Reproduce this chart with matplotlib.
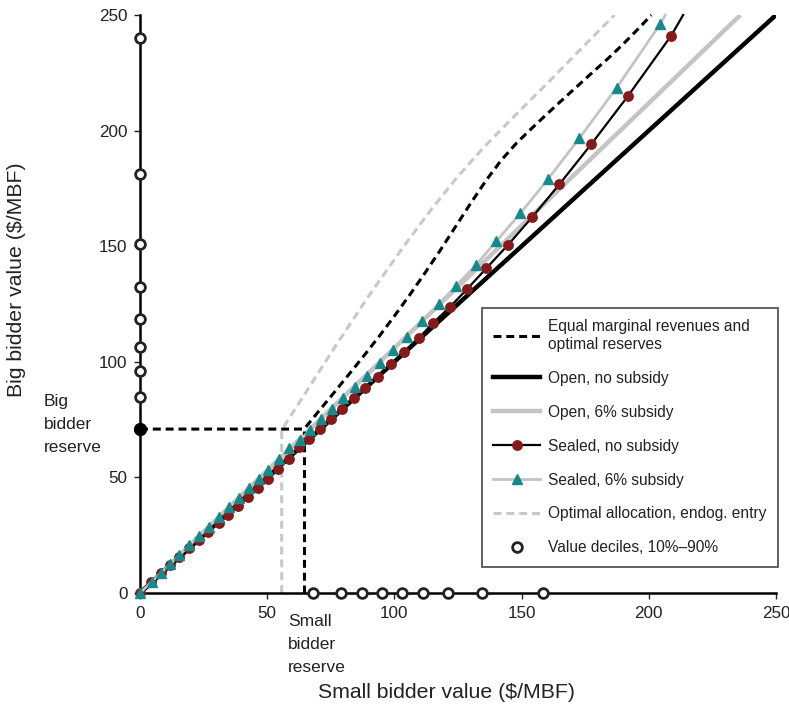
import matplotlib.pyplot as plt
from matplotlib.lines import Line2D

plt.rcParams["font.family"] = ["Liberation Sans", "DejaVu Sans"]
plt.rcParams["text.color"] = "#222222"
plt.rcParams["xtick.color"] = "#222222"
plt.rcParams["ytick.color"] = "#222222"

# open auction bid functions
open_ns_x = [0, 250]
open_ns_y = [0, 250]
open_s_x = [0, 100, 236]
open_s_y = [0, 106, 250]

# sealed bid, no subsidy (markers), last point is the line running to the top
sealed_ns_x = [0, 4.2, 8.1, 11.8, 15.4, 19.3, 23.2, 26.8, 31.1, 34.7,
               38.6, 42.6, 46.5, 50.4, 54.4, 58.6, 62.6, 66.6, 70.8, 75.1,
               79.4, 84.0, 88.6, 93.4, 98.7, 103.8, 109.6, 115.3, 121.9, 128.7,
               136.1, 144.6, 154.1, 164.8, 177.3, 191.7, 208.7, 213.5]
sealed_ns_y = [0, 4.6, 8.5, 12.1, 15.7, 19.3, 22.9, 26.5, 30.4, 33.7,
               37.6, 41.7, 45.3, 49.3, 53.6, 58.0, 63.0, 66.7, 70.8, 75.1,
               79.6, 84.2, 88.8, 93.6, 98.9, 104.4, 110.3, 116.9, 123.8, 131.6,
               140.4, 150.5, 162.5, 176.7, 194.0, 214.8, 240.9, 250]

# sealed bid, 6% subsidy
sealed_s_x = [0, 4.6, 8.1, 11.8, 15.4, 19.4, 23.3, 27.0, 30.9, 34.9,
              38.8, 42.7, 46.7, 50.2, 54.5, 58.7, 62.9, 66.9, 71.1, 75.5,
              79.9, 84.5, 89.3, 94.2, 99.4, 105.0, 111.0, 117.4, 124.1, 131.9,
              140.0, 149.5, 160.3, 172.7, 187.4, 204.5, 206.5]
sealed_s_y = [0, 4.9, 8.6, 12.5, 16.3, 20.6, 24.7, 28.6, 32.8, 37.0,
              41.1, 45.3, 49.5, 53.2, 57.8, 62.6, 66.2, 70.5, 75.1, 79.6,
              84.3, 89.2, 93.9, 99.4, 105.1, 110.9, 117.8, 125.0, 132.7, 141.7,
              152.1, 164.2, 178.9, 196.7, 218.6, 246.1, 250]

# equal marginal revenues curve with optimal reserves
big_reserve = 70.9
small_reserve = 64.5
emr_x = [0, 64.5, 70, 76, 82, 88, 94, 100, 106, 112, 118, 124, 130, 136,
         142, 148, 154, 160, 166, 172, 178, 184, 190, 196, 201]
emr_y = [70.9, 70.9, 78.3, 86.3, 94.4, 102.6, 111.0, 119.8, 128.9, 138.4,
         148.2, 158.4, 168.6, 178.4, 187.2, 194.6, 201.0, 207.2, 213.3,
         219.3, 225.3, 231.2, 237.5, 244.2, 250]

# optimal allocation, endogenous entry
opt_x = [55.7, 55.7, 64.2, 77.3, 90.4, 103.5, 114.0, 124.5, 134.9, 148.1,
         161.2, 174.3, 186.5]
opt_y = [0, 70.5, 85.1, 107.6, 129.3, 149.7, 165.2, 179.6, 192.5, 207.3,
         221.7, 236.4, 250]

# value deciles, 10%-90%
small_deciles = [68.0, 79.0, 87.3, 95.1, 103.0, 111.2, 121.1, 134.4, 158.4]
big_deciles = [70.9, 84.6, 96.2, 106.5, 118.4, 132.5, 151.0, 181.1, 239.9]

ticks = [0, 50, 100, 150, 200, 250]

red = "#861a1a"
teal = "#168a8a"
lgray = "#c4c4c4"
dgray = "#c8c8c8"
dash = (2.6, 1.6)

fig = plt.figure(figsize=(7.89, 7.11), dpi=100)
ax = fig.add_axes([140 / 789, 1 - 593 / 711, 636 / 789, 578 / 711])

ax.plot(open_s_x, open_s_y, color=lgray, lw=3.2, solid_capstyle="butt", zorder=2)
ax.plot(open_ns_x, open_ns_y, color="black", lw=3.2, solid_capstyle="butt", zorder=2)

ax.plot(opt_x, opt_y, color=dgray, lw=2.2, dashes=dash, zorder=2)
ax.plot(emr_x, emr_y, color="black", lw=2.2, dashes=dash, zorder=3, clip_on=False)
ax.plot([small_reserve, small_reserve], [0, big_reserve], color="black", lw=2.2,
        dashes=dash, zorder=3)

n_ns = len(sealed_ns_x) - 1
ax.plot(sealed_ns_x, sealed_ns_y, color="black", lw=1.6, marker="o", ms=6.8,
        mfc=red, mec=red, markevery=list(range(n_ns)), zorder=4, clip_on=False)
n_s = len(sealed_s_x) - 1
ax.plot(sealed_s_x, sealed_s_y, color=lgray, lw=2.0, marker="^", ms=7.5,
        mfc=teal, mec=teal, markevery=list(range(n_s)), zorder=5, clip_on=False)

ax.plot(small_deciles, [0] * len(small_deciles), ls="none", marker="o", ms=7,
        mfc="white", mec="#222222", mew=2, zorder=6, clip_on=False)
ax.plot([0] * len(big_deciles), big_deciles, ls="none", marker="o", ms=7,
        mfc="white", mec="#222222", mew=2, zorder=6, clip_on=False)
ax.plot([0], [big_reserve], ls="none", marker="o", ms=8.5, color="black",
        zorder=7, clip_on=False)

ax.set_xlim(0, 250)
ax.set_ylim(0, 250)
ax.set_xticks(ticks)
ax.set_yticks(ticks)
ax.tick_params(labelsize=12.3, length=4, width=1, pad=5)
ax.spines[["top", "right"]].set_visible(False)
ax.spines[["left", "bottom"]].set_linewidth(1.8)

fig.text(446.5 / 789, 1 - 692 / 711, "Small bidder value ($/MBF)", fontsize=15.3,
         ha="center", va="center")
fig.text(17 / 789, 1 - 279.5 / 711, "Big bidder value ($/MBF)", fontsize=15.3,
         ha="center", va="center", rotation=90)

fig.text(44 / 789, 1 - 424.7 / 711, "Big\nbidder\nreserve", fontsize=12.5,
         ha="left", va="center", linespacing=1.65)
fig.text(288 / 789, 1 - 644.7 / 711, "Small\nbidder\nreserve", fontsize=12.5,
         ha="left", va="center", linespacing=1.65)

handles = [
    Line2D([0], [0], color="black", lw=2.2, dashes=dash),
    Line2D([0], [0], color="black", lw=3.2),
    Line2D([0], [0], color=lgray, lw=3.2),
    Line2D([0], [0], color="black", lw=1.6, marker="o", ms=6.8, mfc=red, mec=red),
    Line2D([0], [0], color=lgray, lw=2.0, marker="^", ms=7.5, mfc=teal, mec=teal),
    Line2D([0], [0], color=dgray, lw=2.2, dashes=dash),
    Line2D([0], [0], ls="none", marker="o", ms=7, mfc="white", mec="#222222", mew=2),
]
labels = [
    "Equal marginal revenues and\noptimal reserves",
    "Open, no subsidy",
    "Open, 6% subsidy",
    "Sealed, no subsidy",
    "Sealed, 6% subsidy",
    "Optimal allocation, endog. entry",
    "Value deciles, 10%\u201390%",
]
leg = ax.legend(handles, labels, loc="upper left",
                bbox_to_anchor=(482 / 789, 1 - 308 / 711),
                bbox_transform=fig.transFigure, borderaxespad=0,
                fontsize=11.2, handlelength=3.0, handletextpad=0.55,
                labelspacing=1.22, borderpad=0.72, fancybox=False,
                framealpha=1, edgecolor="#555555")
leg.get_frame().set_linewidth(1.3)
leg.set_zorder(10)

fig.savefig("out.png", dpi=100)
